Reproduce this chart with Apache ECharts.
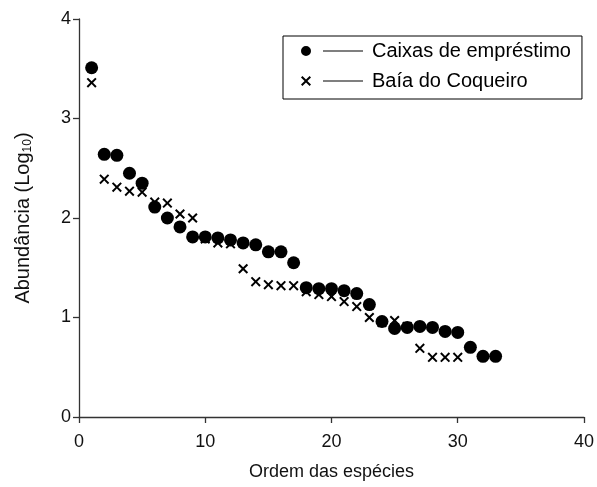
<!DOCTYPE html>
<html>
<head>
<meta charset="utf-8">
<script src="https://cdn.jsdelivr.net/npm/echarts@6/dist/echarts.min.js"></script>
<style>html,body{margin:0;padding:0;background:#fff}#c{width:597px;height:487px}</style>
</head>
<body>
<div id="c"></div>
<script>
// Data
var seriesNames = ['Caixas de empréstimo', 'Baía do Coqueiro'];
var caixas = [3.51,2.64,2.63,2.45,2.35,2.11,2.00,1.91,1.81,1.81,1.80,1.78,1.75,1.73,1.66,1.66,1.55,1.30,1.29,1.29,1.27,1.24,1.13,0.96,0.89,0.90,0.91,0.90,0.86,0.85,0.70,0.61,0.61];
var baia = [3.36,2.39,2.31,2.27,2.26,2.16,2.15,2.04,2.00,1.79,1.75,1.74,1.49,1.36,1.33,1.32,1.32,1.26,1.23,1.21,1.16,1.11,1.00,0.95,0.97,0.91,0.69,0.60,0.60,0.60];
var xTicks = [0, 10, 20, 30, 40];
var yTicks = [0, 1, 2, 3, 4];

function toPoints(arr){ return arr.map(function(v,i){ return [i+1, v]; }); }

var FONT = 'Liberation Sans, Arial, sans-serif';
var crossPath = 'path://M0,1.4 L1.4,0 L5,3.6 L8.6,0 L10,1.4 L6.4,5 L10,8.6 L8.6,10 L5,6.4 L1.4,10 L0,8.6 L3.6,5 Z';
var circleLegend = 'path://M0,5 A5,5 0 1,0 10,5 A5,5 0 1,0 0,5 Z M22,4.5 L62,4.5 L62,5.5 L22,5.5 Z';
var crossLegend = 'path://M0,1.4 L1.4,0 L5,3.6 L8.6,0 L10,1.4 L6.4,5 L10,8.6 L8.6,10 L5,6.4 L1.4,10 L0,8.6 L3.6,5 Z M22,4.5 L62,4.5 L62,5.5 L22,5.5 Z';

var chart = echarts.init(document.getElementById('c'));
chart.setOption({
  animation: false,
  backgroundColor: '#fff',
  textStyle: { fontFamily: FONT },
  grid: { left: 79, right: 11, top: 19, bottom: 70 },
  legend: {
    orient: 'vertical',
    left: 283, top: 36,
    padding: [5, 11, 8, 18],
    borderColor: '#000', borderWidth: 1,
    itemWidth: 62, itemHeight: 10, itemGap: 10,
    textStyle: { fontSize: 20, color: '#000', fontFamily: FONT, padding: [0,0,0,4] },
    data: [
      { name: seriesNames[0], icon: circleLegend },
      { name: seriesNames[1], icon: crossLegend }
    ]
  },
  xAxis: {
    type: 'value', min: xTicks[0], max: xTicks[xTicks.length-1], interval: 10,
    name: 'Ordem das espécies', nameLocation: 'middle', nameGap: 46,
    nameTextStyle: { fontSize: 18, color: '#111', fontFamily: FONT },
    axisLine: { lineStyle: { color: '#333', width: 1.3 } },
    axisTick: { show: true, length: 6, lineStyle: { color: '#333', width: 1.3 } },
    axisLabel: { fontSize: 18, color: '#111', margin: 16, fontFamily: FONT },
    splitLine: { show: false }
  },
  yAxis: {
    type: 'value', min: yTicks[0], max: yTicks[yTicks.length-1], interval: 1,
    name: 'Abundância (Log{sub|10})', nameLocation: 'middle', nameGap: 45,
    nameTextStyle: { fontSize: 20, color: '#111', fontFamily: FONT,
      rich: { sub: { fontSize: 12, color: '#111', fontFamily: FONT, padding: [10,0,0,0] } } },
    axisLine: { show: true, lineStyle: { color: '#333', width: 1.3 } },
    axisTick: { show: true, length: 6, lineStyle: { color: '#333', width: 1.3 } },
    axisLabel: { fontSize: 18, color: '#111', margin: 8, fontFamily: FONT },
    splitLine: { show: false }
  },
  series: [
    { name: seriesNames[0], type: 'scatter', data: toPoints(caixas), symbol: 'circle', symbolSize: 13,
      itemStyle: { color: '#000', opacity: 1 } },
    { name: seriesNames[1], type: 'scatter', data: toPoints(baia), symbol: crossPath, symbolSize: 10,
      itemStyle: { color: '#000', opacity: 1 } }
  ]
});
</script>
</body>
</html>
